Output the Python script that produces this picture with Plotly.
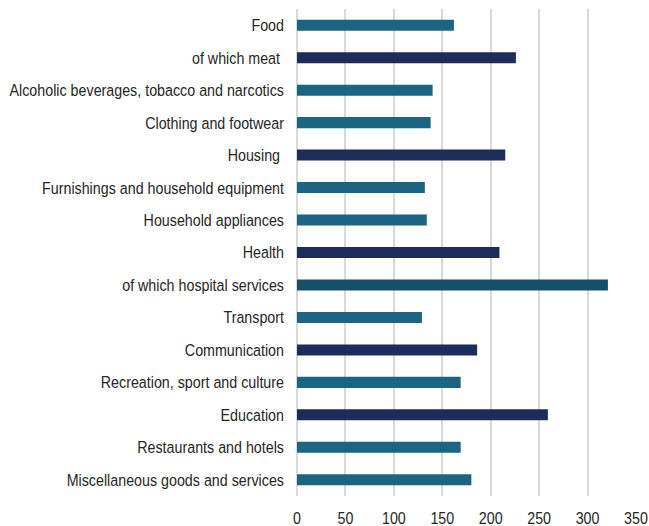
import plotly.graph_objects as go

# Price level index by expenditure category
categories = [
    "Food",
    "of which meat\u00a0",
    "Alcoholic beverages, tobacco and narcotics",
    "Clothing and footwear",
    "Housing\u00a0",
    "Furnishings and household equipment",
    "Household appliances",
    "Health",
    "of which hospital services",
    "Transport",
    "Communication",
    "Recreation, sport and culture",
    "Education",
    "Restaurants and hotels",
    "Miscellaneous goods and services",
]
values = [162, 226, 140, 138, 215, 132, 134, 209, 321, 129, 186, 169, 259, 169, 180]
x_ticks = [0, 50, 100, 150, 200, 250, 300, 350]

# Bar shading per category
TEAL = "#1b6582"
NAVY = "#1d2c59"
DEEP = "#174e68"
bar_colors = [TEAL, NAVY, TEAL, TEAL, NAVY, TEAL, TEAL, NAVY, DEEP,
              TEAL, NAVY, TEAL, NAVY, TEAL, TEAL]

fig = go.Figure(
    go.Bar(
        x=values,
        y=categories,
        orientation="h",
        marker=dict(color=bar_colors, line=dict(width=0)),
        width=0.34,
        hoverinfo="x+y",
    )
)

font_family = "Liberation Sans, Arial, sans-serif"
text_color = "#262626"

fig.update_layout(
    width=649,
    height=526,
    margin=dict(l=297, r=13, t=9, b=30),
    paper_bgcolor="white",
    plot_bgcolor="white",
    showlegend=False,
    font=dict(family=font_family, size=17, color=text_color),
    xaxis=dict(
        range=[0, 350],
        tickvals=x_ticks,
        showgrid=True,
        gridcolor="#d9d9d9",
        gridwidth=1.5,
        zeroline=True,
        zerolinecolor="#d9d9d9",
        zerolinewidth=1.5,
        showline=False,
        ticks="",
        ticklabelstandoff=10,
        ticklabeloverflow="allow",
        tickfont=dict(family=font_family, size=17, color=text_color),
        automargin=False,
        fixedrange=True,
    ),
    yaxis=dict(
        autorange="reversed",
        showgrid=False,
        showline=False,
        zeroline=False,
        ticks="",
        ticklabelstandoff=12,
        ticklabeloverflow="allow",
        tickfont=dict(family=font_family, size=17, color=text_color),
        automargin=False,
        fixedrange=True,
    ),
)

# Condense tick labels horizontally (narrow typeface look), keeping each
# label's anchor point fixed.
condense_js = """
var gd = document.getElementById('{plot_id}');
var k = 0.84;
gd.querySelectorAll('.xtick text, .ytick text').forEach(function (t) {
    var ax = parseFloat(t.getAttribute('x') || '0');
    var tr = t.getAttribute('transform') || '';
    t.setAttribute('transform', tr + ' translate(' + ax + ',0) scale(' + k + ',1) translate(' + (-ax) + ',0)');
});
"""

fig.write_html("out.html", post_script=condense_js)
